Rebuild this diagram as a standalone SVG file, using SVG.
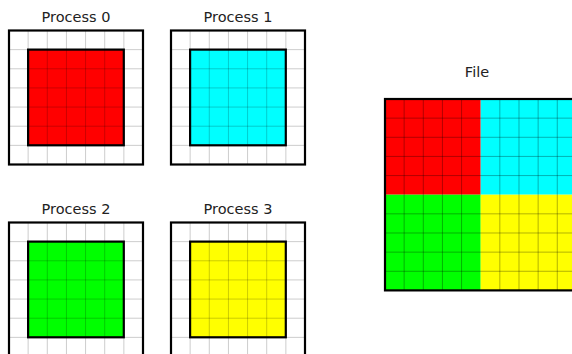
<svg xmlns="http://www.w3.org/2000/svg" xmlns:xlink="http://www.w3.org/1999/xlink" width="572" height="354" viewBox="0 0 572 354">
<style>
.t{font-family:"DejaVu Sans",sans-serif;font-size:14.5px;fill:#222;text-anchor:middle}
.g{stroke:#000;stroke-opacity:0.2;stroke-width:1;fill:none}
.gf{stroke:#000;stroke-opacity:0.3;stroke-width:1;fill:none}
.b{fill:none;stroke:#000;stroke-width:2.2}
</style>
<defs>
<g id="grid7">
<path class="g" d="M19.14 0V134M38.29 0V134M57.43 0V134M76.57 0V134M95.71 0V134M114.86 0V134M0 19.14H134M0 38.29H134M0 57.43H134M0 76.57H134M0 95.71H134M0 114.86H134"/>
</g>
</defs>
<rect width="572" height="354" fill="#fff"/>
<g id="process0">
<text class="t" x="76" y="21.5">Process 0</text>
<rect x="28.1" y="49.6" width="95.7" height="95.7" fill="#ff0000"/>
<use xlink:href="#grid7" transform="translate(9,30.5)"/>
<rect class="b" x="28.1" y="49.6" width="95.7" height="95.7"/>
<rect class="b" x="9" y="30.5" width="134" height="134"/>
</g>
<g id="process1">
<text class="t" x="238" y="21.5">Process 1</text>
<rect x="190.1" y="49.6" width="95.7" height="95.7" fill="#00ffff"/>
<use xlink:href="#grid7" transform="translate(171,30.5)"/>
<rect class="b" x="190.1" y="49.6" width="95.7" height="95.7"/>
<rect class="b" x="171" y="30.5" width="134" height="134"/>
</g>
<g id="process2">
<text class="t" x="76" y="213.5">Process 2</text>
<rect x="28.1" y="241.6" width="95.7" height="95.7" fill="#00ff00"/>
<use xlink:href="#grid7" transform="translate(9,222.5)"/>
<rect class="b" x="28.1" y="241.6" width="95.7" height="95.7"/>
<rect class="b" x="9" y="222.5" width="134" height="134"/>
</g>
<g id="process3">
<text class="t" x="238" y="213.5">Process 3</text>
<rect x="190.1" y="241.6" width="95.7" height="95.7" fill="#ffff00"/>
<use xlink:href="#grid7" transform="translate(171,222.5)"/>
<rect class="b" x="190.1" y="241.6" width="95.7" height="95.7"/>
<rect class="b" x="171" y="222.5" width="134" height="134"/>
</g>
<g id="file">
<text class="t" x="477" y="76.5">File</text>
<rect x="385" y="99" width="95.7" height="95.7" fill="#ff0000"/>
<rect x="480.7" y="99" width="95.7" height="95.7" fill="#00ffff"/>
<rect x="385" y="194.7" width="95.7" height="95.7" fill="#00ff00"/>
<rect x="480.7" y="194.7" width="95.7" height="95.7" fill="#ffff00"/>
<path class="gf" d="M404.14 99V290.4M423.29 99V290.4M442.43 99V290.4M461.57 99V290.4M499.84 99V290.4M518.99 99V290.4M538.13 99V290.4M557.27 99V290.4M385 118.14H576M385 137.29H576M385 156.43H576M385 175.57H576M385 213.84H576M385 232.99H576M385 252.13H576M385 271.27H576"/>
<rect class="b" x="385" y="99" width="191.4" height="191.4"/>
</g>
</svg>
